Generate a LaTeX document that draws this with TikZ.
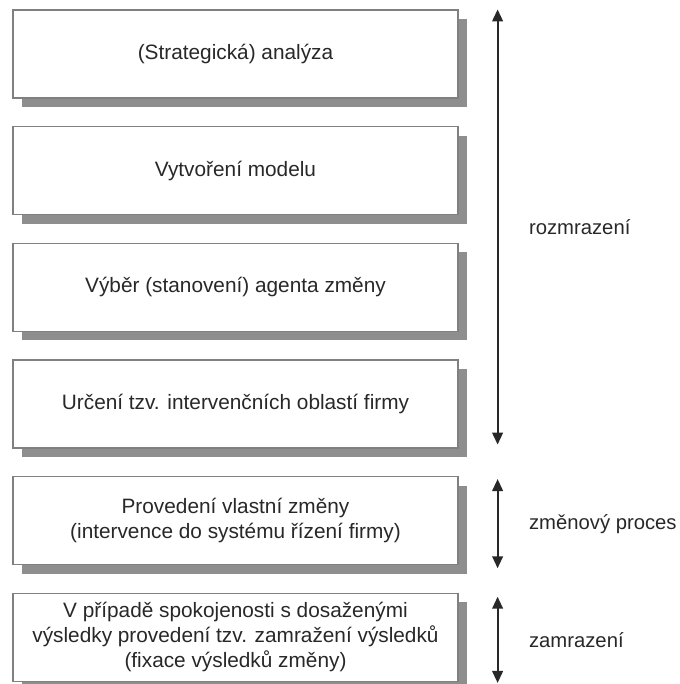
\documentclass[tikz,border=0pt]{standalone}
\usepackage{fontspec}
\setmainfont{Liberation Sans}
\usetikzlibrary{arrows.meta,positioning,shadows,calc}
\definecolor{frame}{RGB}{128,128,128}
\definecolor{shade}{RGB}{142,142,142}
\definecolor{ink}{RGB}{40,40,40}
\tikzset{
  >={Triangle[length=9pt,width=8pt]},
  stage/.style={draw=frame,line width=0.9pt,fill=white,minimum width=333.75pt,
    minimum height=66pt,align=center,text=ink,font=\fontsize{15.6}{18.8}\selectfont,
    drop shadow={shadow xshift=6.75pt,shadow yshift=-6.75pt,fill=shade,opacity=1}},
  span/.style={<->,line width=1.5pt,draw=ink},
  phase/.style={anchor=west,text=ink,font=\fontsize{15.2}{18.8}\selectfont},
}

\begin{document}
\begin{tikzpicture}[x=0.75pt,y=-0.75pt,node distance=20.6pt]
  \useasboundingbox (0,0) rectangle (680,684);
  % the six steps
  \node[stage] (analyza) at (235.5,54) {(Strategická) analýza};
  \node[stage,below=of analyza] (model) {Vytvoření modelu};
  \node[stage,below=of model] (agent) {Výběr (stanovení) agenta změny};
  \node[stage,below=of agent] (oblasti) {Určení tzv. intervenčních oblastí firmy};
  \node[stage,below=of oblasti] (provedeni) {Provedení vlastní změny\\(intervence do systému řízení firmy)};
  \node[stage,below=of provedeni] (fixace) {V případě spokojenosti s dosaženými\\výsledky provedení tzv. zamražení výsledků\\(fixace výsledků změny)};
  % phase arrows
  \coordinate (r1t) at ($(analyza.north east)+(39,0)$);
  \coordinate (r1b) at ($(oblasti.south east)+(39,-4)$);
  \coordinate (r2t) at ($(provedeni.north east)+(39,3)$);
  \coordinate (r2b) at ($(provedeni.south east)+(39,3)$);
  \coordinate (r3t) at ($(fixace.north east)+(39,4)$);
  \coordinate (r3b) at ($(fixace.south east)+(39,1)$);
  \draw[span] (r1t) -- node[phase,xshift=19.5pt] (rozmrazeni) {rozmrazení} (r1b);
  \draw[span] (r2t) -- node[phase,xshift=19.5pt] (proces) {změnový proces} (r2b);
  \draw[span] (r3t) -- node[phase,xshift=19.5pt] (zamrazeni) {zamrazení} (r3b);
\end{tikzpicture}
\end{document}
